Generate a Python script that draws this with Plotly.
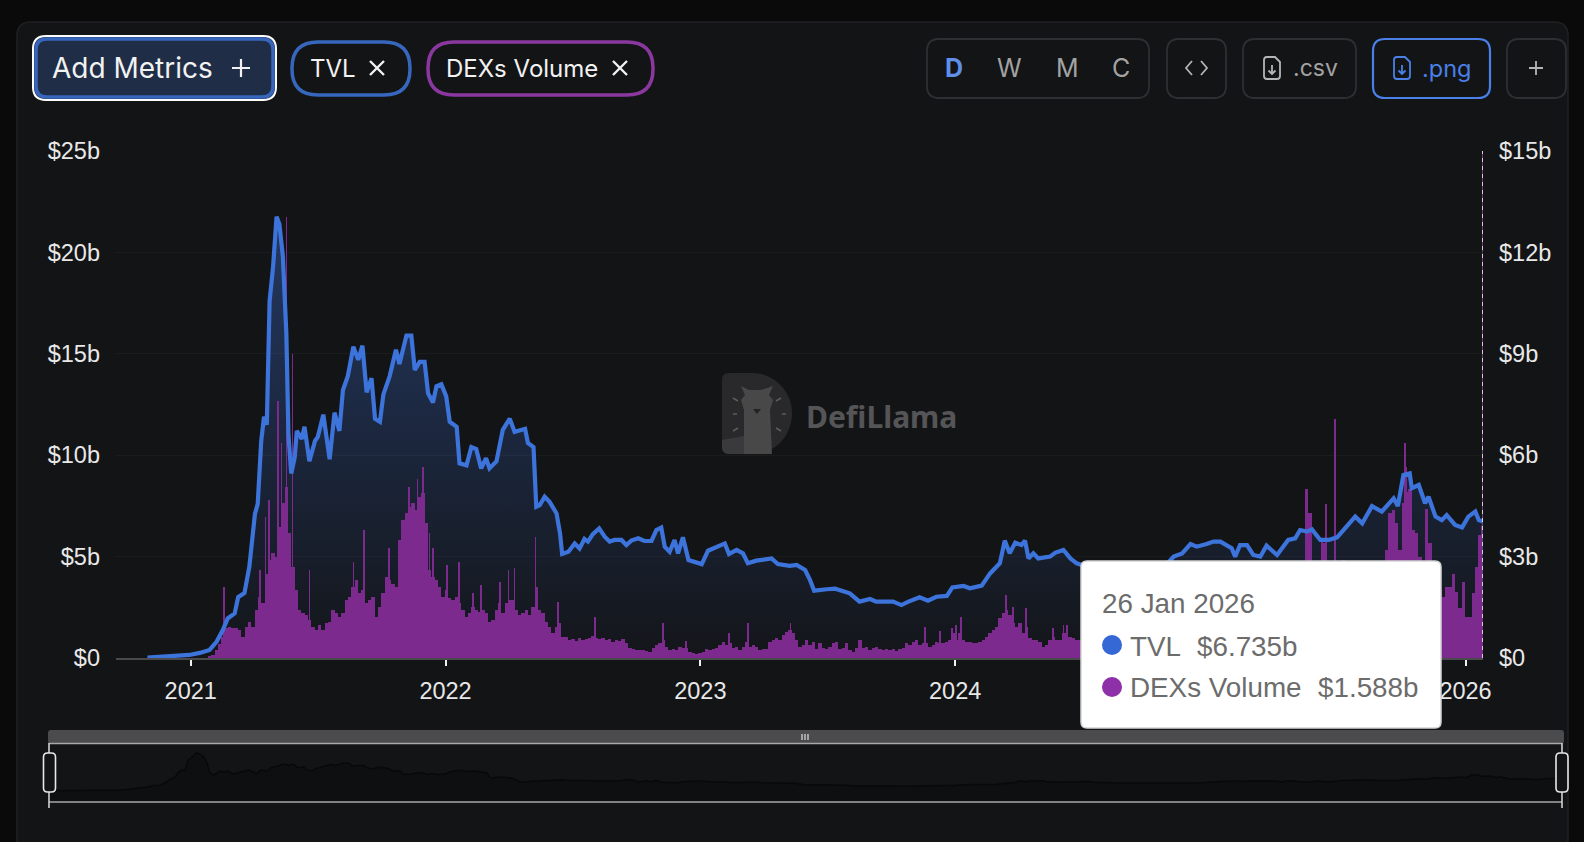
import pandas as pd
import plotly.graph_objects as go

W, H = 1584, 842
BASE = pd.Timestamp("2021-01-01")

# TVL in $b (days counted from 1 Jan 2021)
tvl_days = [-62, -40, -16, -2, 13, 27, 37, 46, 53, 63, 68, 77, 84, 92, 96, 101, 105, 109, 113, 118,
            123, 127, 132, 137, 140, 144, 149, 152, 159, 163, 170, 178, 182, 190, 199, 206, 213, 218, 225, 233,
            240, 246, 252, 259, 264, 271, 276, 285, 294, 299, 309, 316, 321, 328, 335, 340, 347, 352, 359, 366,
            371, 381, 385, 395, 402, 409, 416, 423, 428, 438, 447, 457, 464, 479, 483, 491, 495, 500, 507, 514,
            524, 529, 532, 541, 550, 557, 564, 569, 576, 585, 593, 600, 607, 617, 624, 631, 641, 650, 660, 667,
            674, 679, 686, 693, 698, 705, 713, 722, 732, 741, 753, 765, 771, 782, 791, 798, 810, 825, 832, 841,
            858, 868, 880, 887, 893, 911, 923, 944, 958, 973, 982, 1006, 1018, 1028, 1044, 1056, 1068, 1083, 1091, 1107,
            1116, 1133, 1145, 1159, 1166, 1173, 1181, 1190, 1195, 1200, 1207, 1214, 1231, 1238, 1250, 1260, 1269, 1276, 1290, 1320,
            1350, 1380, 1400, 1408, 1420, 1432, 1441, 1455, 1465, 1475, 1491, 1496, 1503, 1513, 1522, 1532, 1541, 1556, 1572, 1582,
            1589, 1599, 1606, 1618, 1630, 1642, 1654, 1668, 1678, 1692, 1706, 1723, 1729, 1737, 1746, 1749, 1759, 1768, 1773, 1783,
            1792, 1799, 1811, 1821, 1830, 1840, 1845, 1851]
tvl_values = [0.02, 0.08, 0.15, 0.15, 0.25, 0.4, 0.8, 1.38, 1.95, 2.2, 3.0, 3.2, 4.5, 7.1, 7.6, 10.7, 11.9, 11.5, 17.6, 19.3,
              21.76, 21.4, 19.8, 16.0, 11.0, 9.1, 9.9, 11.2, 10.8, 11.4, 9.7, 10.7, 10.9, 12.0, 9.8, 12.1, 11.2, 13.2, 13.9, 15.35,
              14.7, 15.4, 13.1, 13.8, 11.8, 11.65, 13.0, 13.9, 15.2, 14.5, 15.9, 15.9, 14.2, 14.6, 14.6, 13.05, 12.6, 13.4, 13.5, 12.9,
              11.65, 11.4, 9.6, 9.5, 10.4, 10.3, 9.35, 9.85, 9.35, 9.7, 11.25, 11.8, 11.15, 11.3, 10.6, 10.4, 7.46, 7.54, 7.95, 7.7,
              7.13, 6.15, 5.13, 5.24, 5.65, 5.4, 5.87, 5.74, 6.11, 6.39, 5.98, 5.74, 5.82, 5.82, 5.57, 5.79, 5.9, 5.77, 5.77, 6.31,
              6.43, 5.49, 5.24, 5.82, 5.16, 5.95, 4.83, 4.72, 4.63, 5.29, 5.49, 5.65, 5.13, 5.33, 5.16, 4.67, 4.8, 4.87, 4.91, 4.63,
              4.54, 4.59, 4.34, 3.85, 3.32, 3.39, 3.42, 3.19, 2.78, 2.91, 2.78, 2.78, 2.61, 2.78, 2.99, 2.83, 3.02, 3.06, 3.48, 3.55,
              3.44, 3.57, 4.17, 4.67, 5.79, 5.16, 5.69, 5.57, 5.79, 4.91, 5.16, 4.91, 5.0, 5.19, 5.33, 4.91, 4.67, 4.59, 4.5, 4.4,
              4.3, 4.4, 4.7, 5.0, 5.16, 5.62, 5.49, 5.62, 5.74, 5.74, 5.41, 5.0, 5.57, 5.57, 5.08, 5.0, 5.54, 5.08, 5.82, 5.9,
              6.31, 6.23, 6.34, 5.82, 5.82, 5.95, 6.39, 6.97, 6.64, 7.49, 7.22, 7.87, 7.49, 9.02, 9.1, 8.37, 8.53, 7.63, 7.95, 6.97,
              6.8, 7.05, 6.56, 6.44, 6.97, 7.22, 6.8, 6.735]

# DEX volume in $b, one bar per step
vol_first_day = 27.2
vol_step_days = 4.776
vol_2021 = [0.03, 0.08, 0.24, 0.4, 0.63, 0.9, 0.93, 0.88, 0.88, 0.83,
            0.63, 0.93, 1.07, 0.93, 1.42, 1.81, 1.62, 2.5, 2.9, 3.1,
            3.0, 3.89, 4.58, 5.07, 3.69, 2.7, 2.01, 1.42, 1.32, 1.27,
            1.12, 0.93, 0.83, 0.98, 0.83, 1.03, 1.07, 1.42, 1.32, 1.22,
            1.32, 1.72, 1.81, 2.11, 2.3, 1.91, 2.0, 1.62, 1.72, 1.81,
            1.22, 1.52, 1.91, 2.41, 2.3, 2.2, 2.1, 3.49, 4.08, 4.28,
            4.48, 4.58, 4.38, 4.77, 4.87, 4.0]
vol_2022 = [2.6, 2.4, 2.3, 2.11, 1.81, 2.0, 1.77, 1.72, 1.81, 1.62,
            1.42, 1.22, 1.32, 1.52, 1.42, 1.37, 1.42, 1.32, 1.07, 1.12,
            1.42, 1.62, 1.32, 1.62, 1.72, 1.72, 1.42, 1.27, 1.32, 1.42,
            1.27, 1.52, 2.11, 1.42, 1.32, 1.07, 0.93, 0.73, 0.93, 1.03,
            0.63, 0.63, 0.53, 0.55, 0.5, 0.58, 0.52, 0.55, 0.6, 0.65,
            0.58, 0.55, 0.58, 0.53, 0.55, 0.48, 0.53, 0.5, 0.55, 0.45,
            0.3, 0.27, 0.25, 0.24, 0.24, 0.22]
vol_2023 = [0.19, 0.29, 0.38, 0.43, 0.53, 0.34, 0.24, 0.26, 0.24, 0.32,
            0.29, 0.29, 0.19, 0.14, 0.12, 0.14, 0.19, 0.26, 0.24, 0.26,
            0.29, 0.38, 0.48, 0.38, 0.43, 0.29, 0.34, 0.24, 0.32, 0.48,
            0.34, 0.38, 0.32, 0.24, 0.26, 0.26, 0.48, 0.53, 0.58, 0.53,
            0.68, 0.78, 0.83, 0.73, 0.53, 0.34, 0.38, 0.53, 0.38, 0.48,
            0.26, 0.43, 0.29, 0.26, 0.34, 0.43, 0.48, 0.26, 0.29, 0.43,
            0.24, 0.19, 0.29, 0.53, 0.29, 0.32]
vol_2024 = [0.24, 0.29, 0.34, 0.26, 0.24, 0.26, 0.24, 0.26, 0.22, 0.26,
            0.29, 0.43, 0.38, 0.48, 0.53, 0.38, 0.43, 0.43, 0.32, 0.38,
            0.48, 0.43, 0.45, 0.48, 0.53, 0.73, 0.53, 0.73, 0.53, 0.48,
            0.48, 0.43, 0.43, 0.48, 0.53, 0.63, 0.73, 0.83, 0.93, 1.17,
            1.32, 1.42, 1.27, 1.03, 0.93, 1.03, 0.73, 0.93, 0.58, 0.53,
            0.53, 0.48, 0.34, 0.38, 0.53, 0.63, 0.53, 0.53, 0.73, 0.73,
            0.63, 0.58, 0.53, 0.53]
# this stretch sits behind the tooltip, only the tops above it can be read
vol_hidden = [0.5, 0.55, 0.6, 0.5, 0.55, 0.6, 0.5, 0.55, 0.65, 0.6,
              0.55, 0.5, 0.55, 0.6, 0.7, 0.8, 0.7, 0.65, 0.7, 0.8,
              0.9, 0.85, 0.9, 1.0, 1.1, 1.0, 0.95, 1.1, 1.2, 1.1,
              1.0, 1.1, 1.3, 1.2, 1.1, 1.0, 1.1, 1.2, 1.1, 1.0,
              1.05, 1.1, 1.2, 1.3, 1.2, 1.1, 1.0, 1.1, 1.2, 1.3,
              1.4, 1.3, 1.2, 1.3, 1.4, 1.5, 1.4, 1.3, 1.4, 1.5,
              1.6, 1.5, 1.4, 1.5, 1.6, 1.7, 2.0, 5.0, 4.3, 2.6,
              2.2, 2.6, 3.4, 2.3, 2.1, 2.6, 2.3, 2.8, 2.9, 2.4,
              2.2, 2.1, 2.2, 2.0, 2.3, 2.1, 2.0, 2.2, 2.1, 2.4,
              2.6, 3.2, 4.3, 4.38, 4.0, 3.2, 4.6, 4.9, 5.0, 3.8,
              3.7, 3.0, 2.8, 4.4, 3.4, 2.5, 2.2, 2.0]
vol_end = [1.81, 2.11, 2.11, 2.5, 1.96, 1.47, 2.26, 1.22, 1.22, 1.91, 2.7, 3.64, 1.588]
vol_values = vol_2021 + vol_2022 + vol_2023 + vol_2024 + vol_hidden + vol_end

# single-day volume spikes
spike_days = [48, 99, 107, 112, 125, 130, 137, 146, 170, 233, 248, 284, 313, 325, 333, 342, 347, 367, 384, 404,
              416, 443, 455, 464, 494, 526, 579, 676, 709, 771, 798, 859, 1052, 1073, 1090, 1096, 1103, 1168, 1178, 1196,
              1235, 1250, 1255, 1620, 1626, 1639, 1739, 1741, 1849]
spike_values = [2.1, 2.6, 4.18, 4.67, 7.6, 6.35, 13.06, 9.0, 2.6, 2.85, 3.79, 3.24, 5.07, 5.3, 5.66, 3.7, 3.24, 2.75, 2.85, 1.91,
                2.16, 2.26, 2.6, 2.65, 3.59, 1.67, 1.22, 1.03, 0.5, 0.73, 1.03, 1.03, 0.93, 0.79, 0.88, 0.98, 1.22, 1.86, 1.52, 1.47,
                0.88, 0.98, 0.98, 3.5, 4.56, 7.06, 6.35, 5.66, 3.9]

year_ticks = ["2021-01-01", "2022-01-01", "2023-01-01", "2024-01-01", "2025-01-01", "2026-01-01"]
# the 2025 label is out of sight behind the tooltip
year_labels = ["2021", "2022", "2023", "2024", "", "2026"]
left_ticks = [0, 5, 10, 15, 20, 25]
left_labels = ["$0", "$5b", "$10b", "$15b", "$20b", "$25b"]
right_ticks = [0, 3, 6, 9, 12, 15]
right_labels = ["$0", "$3b", "$6b", "$9b", "$12b", "$15b"]

BLUE = "#3d74dc"
PURPLE = "#7d2a8e"
PANEL = "#131416"
LABEL = "#e8e8e8"
UI_FONT = "Inter"
CHART_FONT = "Liberation Sans"

tvl_x = BASE + pd.to_timedelta(tvl_days, unit="D")
vol_x = [BASE + pd.Timedelta(days=vol_first_day + i * vol_step_days) for i in range(len(vol_values))]
spike_x = BASE + pd.to_timedelta(spike_days, unit="D")
last_day = tvl_x[-1]
day_ms = 86400000


def fx(x):
    return x / W


def fy(y):
    return 1 - y / H


def pixel_path(s):
    # "M x y L x y Q ..." in screen pixels -> paper coordinates
    out, is_x = [], True
    for tok in s.split():
        if tok.isalpha():
            out.append(tok)
            is_x = True
        else:
            out.append(f"{fx(float(tok)):.5f}" if is_x else f"{fy(float(tok)):.5f}")
            is_x = not is_x
    return " ".join(out)


def rrect(x0, y0, x1, y1, r):
    return (f"M {x0 + r} {y0} L {x1 - r} {y0} Q {x1} {y0} {x1} {y0 + r} L {x1} {y1 - r} Q {x1} {y1} {x1 - r} {y1} "
            f"L {x0 + r} {y1} Q {x0} {y1} {x0} {y1 - r} L {x0} {y0 + r} Q {x0} {y0} {x0 + r} {y0} Z")


shapes = []
texts = []


def box(x0, y0, x1, y1, r, fill="rgba(0,0,0,0)", line=None, lw=0, layer="above"):
    shapes.append(dict(type="path", path=pixel_path(rrect(x0, y0, x1, y1, r)), xref="paper", yref="paper", layer=layer,
                       fillcolor=fill, line=dict(color=line or "rgba(0,0,0,0)", width=lw)))


def stroke(s, color, lw=2, fill="rgba(0,0,0,0)", layer="above"):
    shapes.append(dict(type="path", path=pixel_path(s), xref="paper", yref="paper", layer=layer,
                       fillcolor=fill, line=dict(color=color, width=lw)))


def label(x, y, text, size, color, font=UI_FONT, anchor="center", weight=400):
    texts.append(dict(x=fx(x), y=fy(y), xref="paper", yref="paper", text=text, showarrow=False, xanchor=anchor,
                      yanchor="middle", xshift=0, font=dict(family=font, size=size, color=color, weight=weight)))


def plus(x, y, r, color, lw=2):
    stroke(f"M {x - r} {y} L {x + r} {y} M {x} {y - r} L {x} {y + r}", color, lw)


def cross(x, y, r, color, lw=2.4):
    stroke(f"M {x - r} {y - r} L {x + r} {y + r} M {x - r} {y + r} L {x + r} {y - r}", color, lw)


def doc_icon(x, y, color):
    stroke(f"M {x - 8} {y - 8} Q {x - 8} {y - 11} {x - 5} {y - 11} L {x + 3} {y - 11} L {x + 8} {y - 6} L {x + 8} {y + 8} "
           f"Q {x + 8} {y + 11} {x + 5} {y + 11} L {x - 5} {y + 11} Q {x - 8} {y + 11} {x - 8} {y + 8} Z", color, 1.8)
    stroke(f"M {x} {y - 3} L {x} {y + 6} M {x - 3.5} {y + 2.5} L {x} {y + 6} L {x + 3.5} {y + 2.5}", color, 1.8)


# panel
box(17, 22, 1568, 860, 14, fill=PANEL, line="#202124", lw=1.5, layer="below")

# top row, left
box(33, 36, 276, 100, 13, fill="#1f2d47", line="#ffffff", lw=2)
box(36, 39, 273, 97, 11, line="#3767bd", lw=3.5)
label(132, 68, "Add Metrics", 28, "#f2f2f2")
plus(241, 68, 9, "#f2f2f2", 2.2)
box(292, 42, 410, 95, 26, line="#3767bd", lw=3.5)
label(333, 68, "TVL", 24, "#f2f2f2")
cross(377, 68, 7, "#f2f2f2")
box(428, 42, 653, 95, 26, line="#8a389f", lw=3.5)
label(522, 68, "DEXs Volume", 24, "#f2f2f2")
cross(620, 68, 7, "#f2f2f2")

# top row, right
box(927, 39, 1149, 98, 12, line="#2e2f32", lw=1.8)
label(954, 68, "D", 25, "#5f8fe8", weight=700)
label(1009, 68, "W", 25, "#a3a3a3")
label(1067, 68, "M", 25, "#a3a3a3")
label(1121, 68, "C", 25, "#a3a3a3")
box(1167, 39, 1226, 98, 12, line="#2e2f32", lw=1.8)
stroke("M 1192 61 L 1186 68 L 1192 75 M 1201 61 L 1207 68 L 1201 75", "#b5b5b5", 1.8)
box(1243, 39, 1356, 98, 12, line="#2e2f32", lw=1.8)
doc_icon(1272, 68, "#b5b5b5")
label(1291, 68, ".csv", 23, "#a3a3a3", anchor="left")
box(1373, 39, 1490, 98, 12, line="#4a80e8", lw=2.2)
doc_icon(1402, 68, "#4a80e8")
label(1420, 68, ".png", 23.5, "#4a80e8", anchor="left")
box(1507, 39, 1566, 98, 12, line="#2e2f32", lw=1.8)
plus(1536, 68, 7, "#b5b5b5", 1.8)

# watermark
stroke("M 722 380 Q 722 373 729 373 L 752 373 C 775 373 792 392 792 413 C 792 436 775 454 752 454 L 729 454 "
       "Q 722 454 722 447 Z", "rgba(0,0,0,0)", 0, fill="#29292b", layer="below")
stroke("M 722 440 L 744 436 L 744 454 L 729 454 Q 722 454 722 447 Z", "rgba(0,0,0,0)", 0, fill="#3a3a3c", layer="below")
stroke("M 744 454 L 744 410 L 741 400 L 745 395 L 741 386 L 749 390 L 761 390 L 773 386 L 769 395 L 773 400 L 770 410 "
       "L 772 454 Z", "rgba(0,0,0,0)", 0, fill="#484849", layer="below")
stroke("M 753 409 L 761 409 L 757 414 Z", "rgba(0,0,0,0)", 0, fill="#222224", layer="below")
stroke("M 733 398 L 738 401 M 733 414 L 737 414 M 733 431 L 738 428 M 781 398 L 776 401 M 786 414 L 782 414 M 781 431 L 776 428",
       "#5c5c5c", 1.6, layer="below")
label(881, 416, "DefiLlama", 30, "#555557", font="Noto Sans", weight=700)

# range slider
box(48, 730, 1564, 744, 3, fill="#4b4b4d", layer="below")
stroke("M 48 790.7 L 1564 790.7 L 1564 802 L 48 802 Z", "rgba(0,0,0,0)", 0, fill="#0e0f10", layer="below")
stroke("M 49 743.5 L 1562 743.5 M 49 802 L 1562 802", "#a8a8a8", 1.6)
stroke("M 49 743 L 49 808 M 1562 743 L 1562 808", "#d0d0d0", 1.6)
box(43.5, 753, 55.5, 792, 4, fill=PANEL, line="#e8e8e8", lw=1.6)
box(1556, 753, 1568, 792, 4, fill=PANEL, line="#e8e8e8", lw=1.6)
stroke("M 802 734 L 802 740 M 805 734 L 805 740 M 808 734 L 808 740", "#e0e0e0", 1.2)

# tooltip
box(1081, 561, 1441, 728, 6, fill="#ffffff", line="#d4d4d4", lw=1.5)
label(1100, 603, "26 Jan 2026", 27.8, "#6c6c6c", font=CHART_FONT, anchor="left")
shapes.append(dict(type="circle", xref="paper", yref="paper", x0=fx(1102), x1=fx(1122), y0=fy(655), y1=fy(635),
                   fillcolor="#3568d4", line=dict(width=0)))
shapes.append(dict(type="circle", xref="paper", yref="paper", x0=fx(1102), x1=fx(1122), y0=fy(697), y1=fy(677),
                   fillcolor="#8e30a8", line=dict(width=0)))
label(1128, 646, "TVL", 27.8, "#6c6c6c", font=CHART_FONT, anchor="left")
label(1195, 646, "$6.735b", 27.8, "#6c6c6c", font=CHART_FONT, anchor="left")
label(1128, 687, "DEXs Volume", 27.8, "#6c6c6c", font=CHART_FONT, anchor="left")
label(1316, 687, "$1.588b", 27.8, "#6c6c6c", font=CHART_FONT, anchor="left")

# crosshair at the hovered day
shapes.append(dict(type="line", xref="x", yref="paper", x0=last_day, x1=last_day, y0=fy(658), y1=fy(151),
                   line=dict(color="#8a4c9a", width=1.6), layer="below"))
shapes.append(dict(type="line", xref="x", yref="paper", x0=last_day, x1=last_day, y0=fy(658), y1=fy(151),
                   line=dict(color="#f0f0f0", width=1.6, dash="4px,4px")))

fig = go.Figure()
fig.add_trace(go.Scatter(x=tvl_x, y=tvl_values, mode="none", fill="tozeroy", xaxis="x", yaxis="y", hoverinfo="skip",
                         fillgradient=dict(type="vertical", start=21.76, stop=0,
                                           colorscale=[[0, "rgba(55,100,190,0.45)"], [1, "rgba(55,100,190,0.02)"]])))
fig.add_trace(go.Bar(x=vol_x, y=vol_values, width=vol_step_days * day_ms, marker=dict(color=PURPLE, line=dict(width=0)),
                     xaxis="x", yaxis="y2", name="DEXs Volume"))
fig.add_trace(go.Bar(x=spike_x, y=spike_values, width=day_ms, marker=dict(color=PURPLE, line=dict(width=0)),
                     xaxis="x", yaxis="y2", name="DEXs Volume spikes"))
fig.add_trace(go.Scatter(x=tvl_x, y=tvl_values, mode="lines", line=dict(color=BLUE, width=4.2), xaxis="x", yaxis="y3",
                         name="TVL"))
# overview under the chart
fig.add_trace(go.Scatter(x=tvl_x, y=tvl_values, mode="lines", fill="tozeroy", fillcolor="#0e0f10",
                         line=dict(color="#09090a", width=1.5), xaxis="x4", yaxis="y4", name="overview"))

tick_font = dict(family=CHART_FONT, size=23.5, color=LABEL)
fig.update_layout(
    width=W, height=H, margin=dict(l=0, r=0, t=0, b=0, autoexpand=False), autosize=False,
    paper_bgcolor="#0a0a0b", plot_bgcolor="rgba(0,0,0,0)", showlegend=False, barmode="overlay", bargap=0,
    xaxis=dict(domain=[fx(116), fx(1483)], range=["2020-09-16", "2026-01-26"], type="date", anchor="y",
               tickmode="array", tickvals=year_ticks, ticktext=year_labels, tickfont=tick_font,
               ticks="outside", ticklen=6, tickwidth=2, tickcolor="#f0f0f0", ticklabelstandoff=5,
               showgrid=False, showline=True, linecolor="#4a4a4c", linewidth=2, zeroline=False),
    yaxis=dict(domain=[fy(658), fy(151)], range=[0, 25], anchor="x", side="left",
               tickmode="array", tickvals=left_ticks, ticktext=left_labels, tickfont=tick_font,
               ticks="", ticklabelstandoff=15, gridcolor="#1b1c1e", gridwidth=1, zeroline=False, showline=False),
    yaxis2=dict(domain=[fy(658), fy(151)], range=[0, 15], anchor="x", overlaying="y", side="right",
                tickmode="array", tickvals=right_ticks, ticktext=right_labels, tickfont=tick_font,
                ticks="", ticklabelstandoff=15, showgrid=False, zeroline=False, showline=False),
    yaxis3=dict(domain=[fy(658), fy(151)], range=[0, 25], anchor="x", overlaying="y", side="left", visible=False),
    xaxis4=dict(domain=[fx(49), fx(1562)], range=["2020-10-30", "2026-01-26"], type="date", anchor="y4", visible=False),
    yaxis4=dict(domain=[fy(802), fy(743)], range=[-6.5, 27.5], anchor="x4", visible=False),
    shapes=shapes, annotations=texts,
)

fig.write_html("out.html", config={"displayModeBar": False},
               post_script="document.body.style.margin='0';document.body.style.background='#0a0a0b';")
